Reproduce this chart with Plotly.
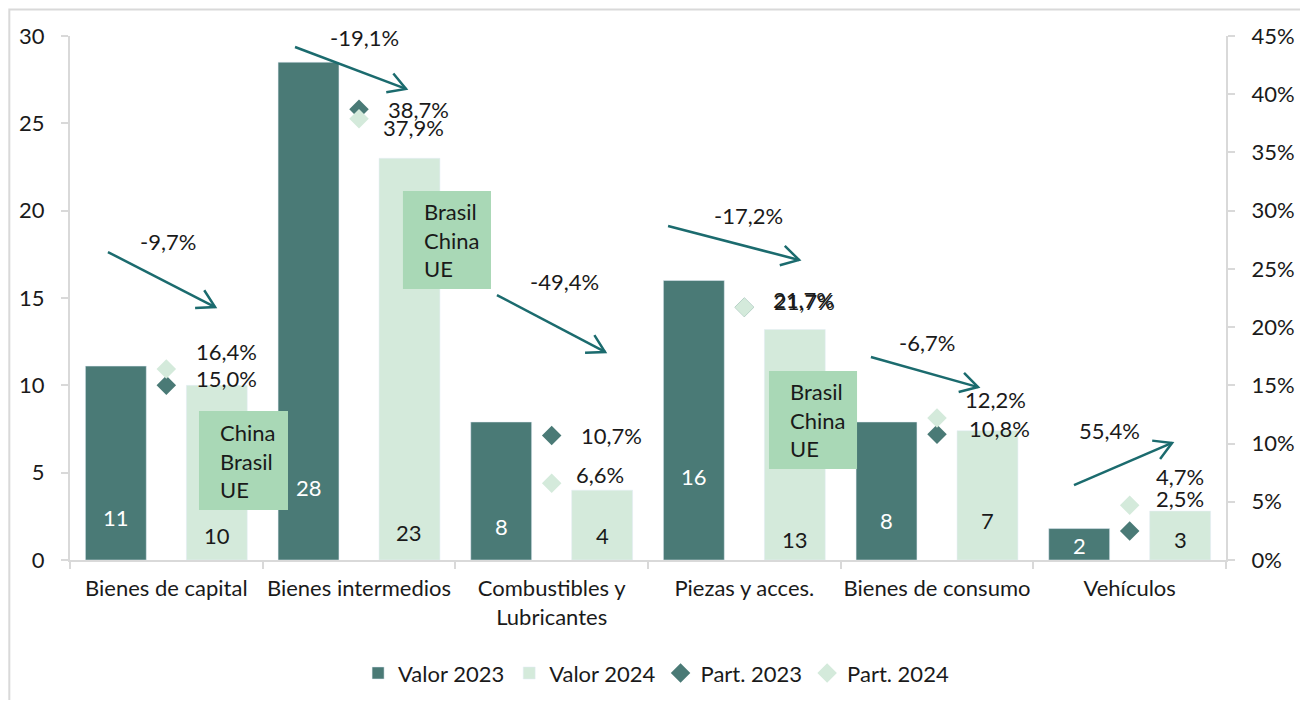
import math
import plotly.graph_objects as go

# datos
categorias = ["Bienes de capital", "Bienes intermedios", "Combustibles y<br>Lubricantes",
              "Piezas y acces.", "Bienes de consumo", "Vehículos"]
valor_2023 = [11.1, 28.5, 7.9, 16.0, 7.9, 1.8]
valor_2024 = [10.0, 23.0, 4.0, 13.2, 7.4, 2.8]
part_2023 = [15.0, 38.7, 10.7, 21.7, 10.8, 2.5]
part_2024 = [16.4, 37.9, 6.6, 21.7, 12.2, 4.7]
variacion = [-9.7, -19.1, -49.4, -17.2, -6.7, 55.4]
origenes = ["China<br>Brasil<br>UE", "Brasil<br>China<br>UE", "Brasil<br>China<br>UE"]

# estilos
OSCURO = "#4a7a76"
CLARO = "#d4eadb"
CAJA = "#a9d8b6"
FLECHA = "#1b6b6e"
GRIS = "#d9d9d9"
TXT = "#1a1a1a"
FUENTE = "Lato"
FS = 22

ANCHO = 0.316
OFF_23 = -0.42
OFF_24 = 0.104

# tamaño del área de trazado (px) para dibujar las puntas de flecha
PLOT_W, PLOT_H = 1156, 524
PX_X = PLOT_W / len(categorias)
PX_Y = PLOT_H / 30


def pct(v):
    return f"{v:.1f}".replace(".", ",") + "%"


fig = go.Figure()
fig.add_trace(go.Bar(x=categorias, y=valor_2023, name="Valor 2023", marker_color=OSCURO,
                     width=ANCHO, offset=OFF_23))
fig.add_trace(go.Bar(x=categorias, y=valor_2024, name="Valor 2024", marker_color=CLARO,
                     width=ANCHO, offset=OFF_24))
fig.add_trace(go.Scatter(x=categorias, y=part_2023, name="Part. 2023", mode="markers", yaxis="y2",
                         marker=dict(symbol="diamond", size=15, color=OSCURO)))
fig.add_trace(go.Scatter(x=categorias, y=part_2024, name="Part. 2024", mode="markers", yaxis="y2",
                         marker=dict(symbol="diamond", size=15, color=CLARO)))

anots = []
shapes = []
# etiquetas de barras (desplazamiento en px desde la base)
sh_23 = [43, 73, 34, 84, 40, 15]
sh_24 = [25, 28, 25, 21, 40, 21]
for i in range(len(categorias)):
    anots.append(dict(x=i + OFF_23 + ANCHO / 2, y=0, yshift=sh_23[i], text=f"{valor_2023[i]:.0f}",
                      showarrow=False, font=dict(color="white", size=FS, family=FUENTE)))
    anots.append(dict(x=i + OFF_24 + ANCHO / 2, y=0, yshift=sh_24[i], text=f"{valor_2024[i]:.0f}",
                      showarrow=False, font=dict(color=TXT, size=FS, family=FUENTE)))

# etiquetas de participación
dx_23 = [28, 27, 27, 28, 30, 24]
dy_23 = [7, 0, 0, 6, 6, 32]
dx_24 = [28, 22, 22, 27, 26, 24]
dy_24 = [18, -9, 9, 8, 18, 29]
for i in range(len(categorias)):
    anots.append(dict(x=i, y=part_2023[i], yref="y2", xanchor="left", xshift=dx_23[i], yshift=dy_23[i],
                      text=pct(part_2023[i]), showarrow=False))
    anots.append(dict(x=i, y=part_2024[i], yref="y2", xanchor="left", xshift=dx_24[i], yshift=dy_24[i],
                      text=pct(part_2024[i]), showarrow=False))

# flechas de variación: (cola x, cola y, punta x, punta y, texto x, texto y)
flechas = [(-0.303, 17.63, 0.253, 14.48, 0.009, 18.26),
           (0.668, 29.37, 1.244, 26.97, 1.026, 29.89),
           (1.716, 15.17, 2.277, 11.91, 2.069, 15.92),
           (2.604, 19.12, 3.284, 17.18, 3.024, 19.75),
           (3.657, 11.62, 4.213, 9.90, 3.948, 12.48),
           (4.711, 4.29, 5.220, 6.70, 4.893, 7.44)]
LARGO_PUNTA = 20
for (tx, ty, hx, hy, lx, ly), v in zip(flechas, variacion):
    shapes.append(dict(type="line", xref="x", yref="y", x0=tx, y0=ty, x1=hx, y1=hy,
                       line=dict(color=FLECHA, width=2.5)))
    ang = math.atan2((hy - ty) * PX_Y, (hx - tx) * PX_X)
    brazos = []
    for d in (math.radians(150), math.radians(-150)):
        brazos.append((hx + LARGO_PUNTA * math.cos(ang + d) / PX_X,
                       hy + LARGO_PUNTA * math.sin(ang + d) / PX_Y))
    path = (f"M{brazos[0][0]},{brazos[0][1]} L{hx},{hy} L{brazos[1][0]},{brazos[1][1]}")
    shapes.append(dict(type="path", xref="x", yref="y", path=path,
                       line=dict(color=FLECHA, width=2.5)))
    anots.append(dict(x=lx, y=ly, text=pct(v), showarrow=False))

# cajas de origen: (x0, x1, y0, y1)
cajas = [(0.1695, 0.6315, 2.86, 8.53), (1.228, 1.685, 15.51, 21.13), (3.128, 3.585, 5.21, 10.82)]
for (x0, x1, y0, y1), t in zip(cajas, origenes):
    shapes.append(dict(type="rect", xref="x", yref="y", x0=x0, x1=x1, y0=y0, y1=y1,
                       fillcolor=CAJA, line=dict(width=0), layer="above"))
    anots.append(dict(x=x0, y=(y0 + y1) / 2, xanchor="left", xshift=19, text=t, showarrow=False,
                      align="left"))

# marco exterior del gráfico
shapes.append(dict(type="rect", xref="paper", yref="paper", x0=-0.0525, x1=1.0685, y0=-0.30, y1=1.0505,
                   line=dict(color=GRIS, width=2), fillcolor="rgba(0,0,0,0)", layer="above"))

fig.update_layout(
    width=1300, height=692,
    margin=dict(l=62, r=82, t=28, b=140, autoexpand=False),
    paper_bgcolor="white", plot_bgcolor="white",
    font=dict(family=FUENTE, size=FS, color=TXT),
    barmode="overlay",
    showlegend=True,
    legend=dict(orientation="h", x=0.507, xanchor="center", y=-0.216, yanchor="middle",
                font=dict(size=FS), itemwidth=30, traceorder="normal"),
    xaxis=dict(showline=True, linecolor=GRIS, linewidth=2, ticks="outside", tickcolor=GRIS,
               ticklen=7, tickwidth=2, tickson="boundaries", showgrid=False, ticklabelstandoff=8,
               tickangle=0, automargin=False),
    yaxis=dict(range=[0, 30], dtick=5, showline=True, linecolor=GRIS, linewidth=2, ticks="outside",
               tickcolor=GRIS, ticklen=7, tickwidth=2, showgrid=False, zeroline=False,
               ticklabelstandoff=12, automargin=False),
    yaxis2=dict(range=[0, 45], dtick=5, ticksuffix="%", overlaying="y", side="right", showline=True,
                linecolor=GRIS, linewidth=2, ticks="outside", tickcolor=GRIS, ticklen=7, tickwidth=2,
                showgrid=False, zeroline=False, ticklabelstandoff=12, automargin=False),
    annotations=anots,
    shapes=shapes,
)

fig.write_html("out.html")
